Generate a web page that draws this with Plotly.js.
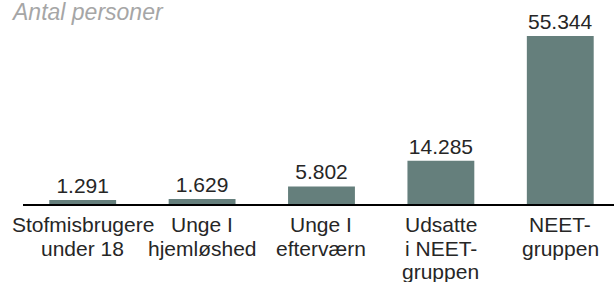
<!DOCTYPE html>
<html>
<head>
<meta charset="utf-8">
<script src="https://cdn.plot.ly/plotly-3.0.1.min.js"></script>
<style>html,body{margin:0;padding:0;background:#fff;}#chart{width:614px;height:282px;}</style>
</head>
<body>
<div id="chart"></div>
<script>
// Data
var categories = ["Stofmisbrugere under 18", "Unge I hjemløshed", "Unge I efterværn", "Udsatte i NEET-gruppen", "NEET-gruppen"];
var labelLines = [
  ["Stofmisbrugere", "under 18"],
  ["Unge I", "hjemløshed"],
  ["Unge I", "efterværn"],
  ["Udsatte", "i NEET-", "gruppen"],
  ["NEET-", "gruppen"]
];
var values = [1291, 1629, 5802, 14285, 55344];
var chartTitle = "Antal personer";

var FONT = "Liberation Sans, Arial, Helvetica, sans-serif";
var annotations = [];
labelLines.forEach(function (lines, ci) {
  lines.forEach(function (ln, li) {
    annotations.push({
      x: categories[ci], xref: "x", y: 0, yref: "paper",
      yanchor: "top", xanchor: "center",
      yshift: -7 - li * 23.5,
      text: ln, showarrow: false,
      font: {family: FONT, size: 21, color: "#262626"}
    });
  });
});

var trace = {
  type: "bar",
  x: categories,
  y: values,
  marker: {color: "#657f7c"},
  texttemplate: "%{y:,}",
  textposition: "outside",
  cliponaxis: false,
  textfont: {family: FONT, size: 21, color: "#262626"},
  hoverinfo: "none"
};

var layout = {
  width: 614, height: 282,
  margin: {l: 23, r: 0, t: 30, b: 78, pad: 0},
  paper_bgcolor: "#ffffff", plot_bgcolor: "#ffffff",
  separators: ",.",
  bargap: 0.44,
  showlegend: false,
  title: {
    text: chartTitle,
    xref: "container", x: 13 / 614, xanchor: "left",
    yref: "container", y: 0.985, yanchor: "top",
    font: {family: FONT, size: 23, color: "#a6a6a6", style: "italic"}
  },
  xaxis: {
    type: "category",
    range: [-0.5, 4.45],
    showline: true, linecolor: "#000000", linewidth: 2,
    showticklabels: false, ticks: "",
    showgrid: false, zeroline: false, fixedrange: true
  },
  yaxis: {
    range: [0, 57320],
    visible: false, showgrid: false, zeroline: false, fixedrange: true
  },
  annotations: annotations
};

Plotly.newPlot("chart", [trace], layout, {displayModeBar: false, staticPlot: true});
</script>
</body>
</html>
